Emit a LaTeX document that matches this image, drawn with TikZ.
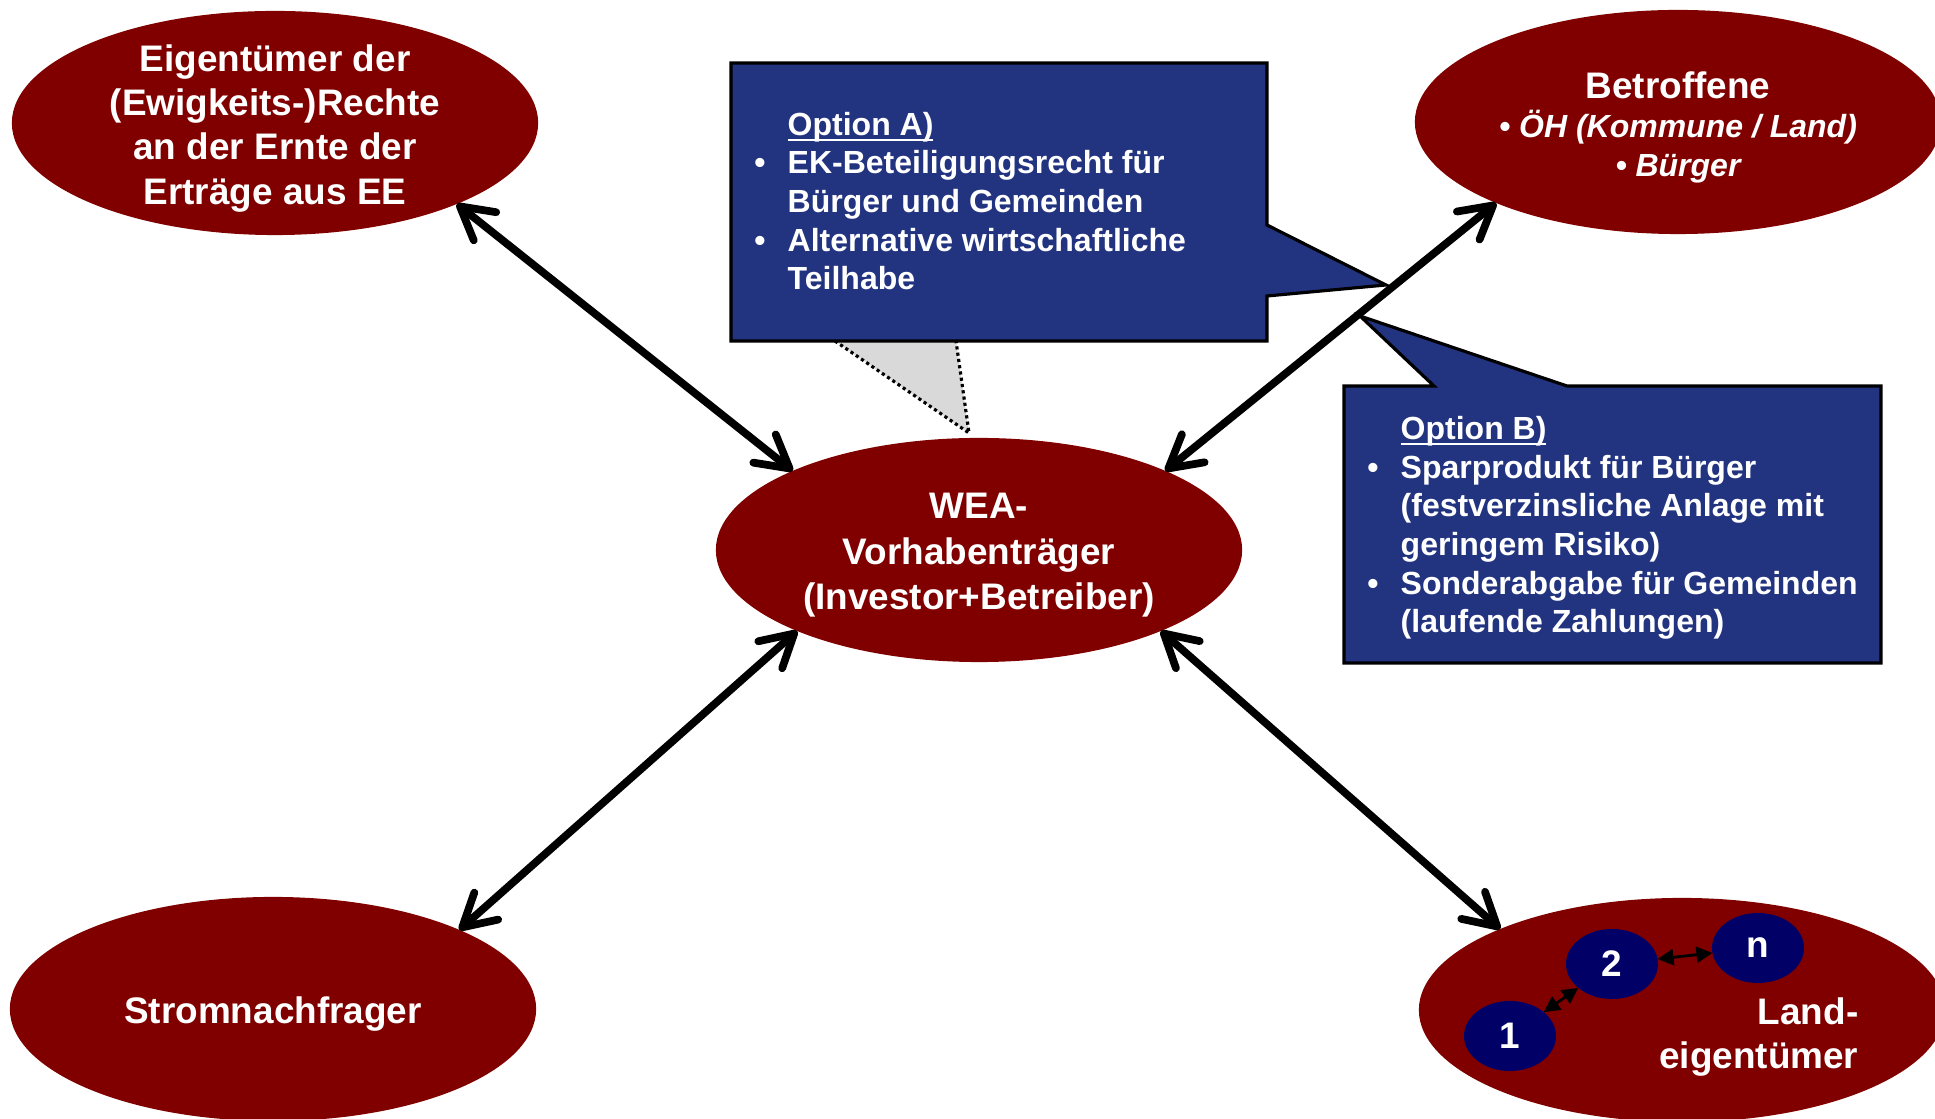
\documentclass[tikz,border=0pt]{standalone}
\usepackage{fontspec}
\setmainfont{Liberation Sans}
\usetikzlibrary{shapes.geometric, arrows.meta, positioning}
\definecolor{darkred}{RGB}{128,0,0}
\definecolor{optblue}{RGB}{34,51,128}
\definecolor{ownernavy}{RGB}{0,0,102}
\definecolor{pointergray}{RGB}{217,217,217}
\newcommand{\bul}{\llap{\textbullet\hspace{0.22cm}}}
\newcommand{\optul}[1]{\setbox0\hbox{#1}\rlap{\rule[-1.5pt]{\wd0}{0.55pt}}#1}

\begin{document}
\begin{tikzpicture}[
        x=0.01cm, y=-0.01cm,
        actor/.style={ellipse, fill=darkred, minimum width=5.26cm, minimum height=2.24cm, inner sep=0pt, outer sep=0pt},
        actortext/.style={text=white, align=center, inner sep=0pt, yshift=-1.5pt, font=\bfseries\fontsize{10.5}{12.6}\selectfont},
        owner/.style={ellipse, fill=ownernavy, text=white, minimum width=0.92cm, minimum height=0.7cm, inner sep=0pt, outer sep=0pt, font=\bfseries\fontsize{10.5}{12.6}\selectfont},
        optbox/.style={fill=optblue, draw=black, line width=0.9pt},
        opttext/.style={text=white, align=left, inner sep=0pt, anchor=base west, font=\bfseries\fontsize{9.1}{11}\selectfont},
        link/.style={{Straight Barb[length=3.2mm,width=3.6mm,round]}-{Straight Barb[length=3.2mm,width=3.6mm,round]}, line width=2.2pt},
        sublink/.style={{Triangle[length=1.6mm,width=1.6mm]}-{Triangle[length=1.6mm,width=1.6mm]}, line width=0.8pt}
    ]
        \useasboundingbox (0,0) rectangle (1935,1119);

        \draw[dash pattern=on 0.9pt off 0.9pt, line width=0.9pt, fill=pointergray] (835,341) -- (969,433) -- (956,341);
        \draw[optbox] (731,63) -- (1267,63) -- (1267,225) -- (1386,285) -- (1267,296) -- (1267,341) -- (731,341) -- cycle;
        \draw[optbox] (1344,386) -- (1434,386) -- (1360,316) -- (1567,386) -- (1881,386) -- (1881,663) -- (1344,663) -- cycle;
        \node[opttext] (optA) at (787,290) {\optul{Option A)}\\\bul EK-Beteiligungsrecht für\\Bürger und Gemeinden\\\bul Alternative wirtschaftliche\\Teilhabe};
        \node[opttext] (optB) at (1400,633) {\optul{Option B)}\\\bul Sparprodukt für Bürger\\(festverzinsliche Anlage mit\\geringem Risiko)\\\bul Sonderabgabe für Gemeinden\\(laufende Zahlungen)};

        \node[actor] (eig) at (275,123) {};
        \node[actor] (bet) at (1678,122) {};
        \node[actor] (wea) at (979,550) {};
        \node[actor] (strom) at (273,1009) {};
        \node[actor] (land) at (1682,1010) {};
        \node[actortext] (eigtext) at (eig) {Eigentümer der\\(Ewigkeits-)Rechte\\an der Ernte der\\Erträge aus EE};
        \node[actortext, font=\bfseries\itshape\fontsize{9.1}{11}\selectfont] (bettext) at (bet) {{\upshape\fontsize{10.5}{12.6}\selectfont Betroffene}\\\textbullet{} ÖH (Kommune / Land)\\\textbullet{} Bürger};
        \node[actortext, font=\bfseries\fontsize{10.5}{13}\selectfont] (weatext) at (wea) {WEA-\\Vorhabenträger\\(Investor+Betreiber)};
        \node[actortext] (stromtext) at (strom) {Stromnachfrager};
        \node[owner] (o1) at (1510,1036) {1};
        \node[owner] (o2) at (1612,964) {2};
        \node[owner] (on) at (1758,948) {n};
        \node[actortext, align=right, anchor=east] (landtxt) at (1859,1032) {Land-\\eigentümer};

        \draw[link] (eig.-24) -- (wea.157);
        \draw[link] (bet.204) -- (wea.23);
        \draw[link] (strom.23) -- (wea.204);
        \draw[link] (land.156) -- (wea.336);
        \draw[sublink] (o1) -- (o2);
        \draw[sublink] (o2) -- (on);
    \end{tikzpicture}
\end{document}
